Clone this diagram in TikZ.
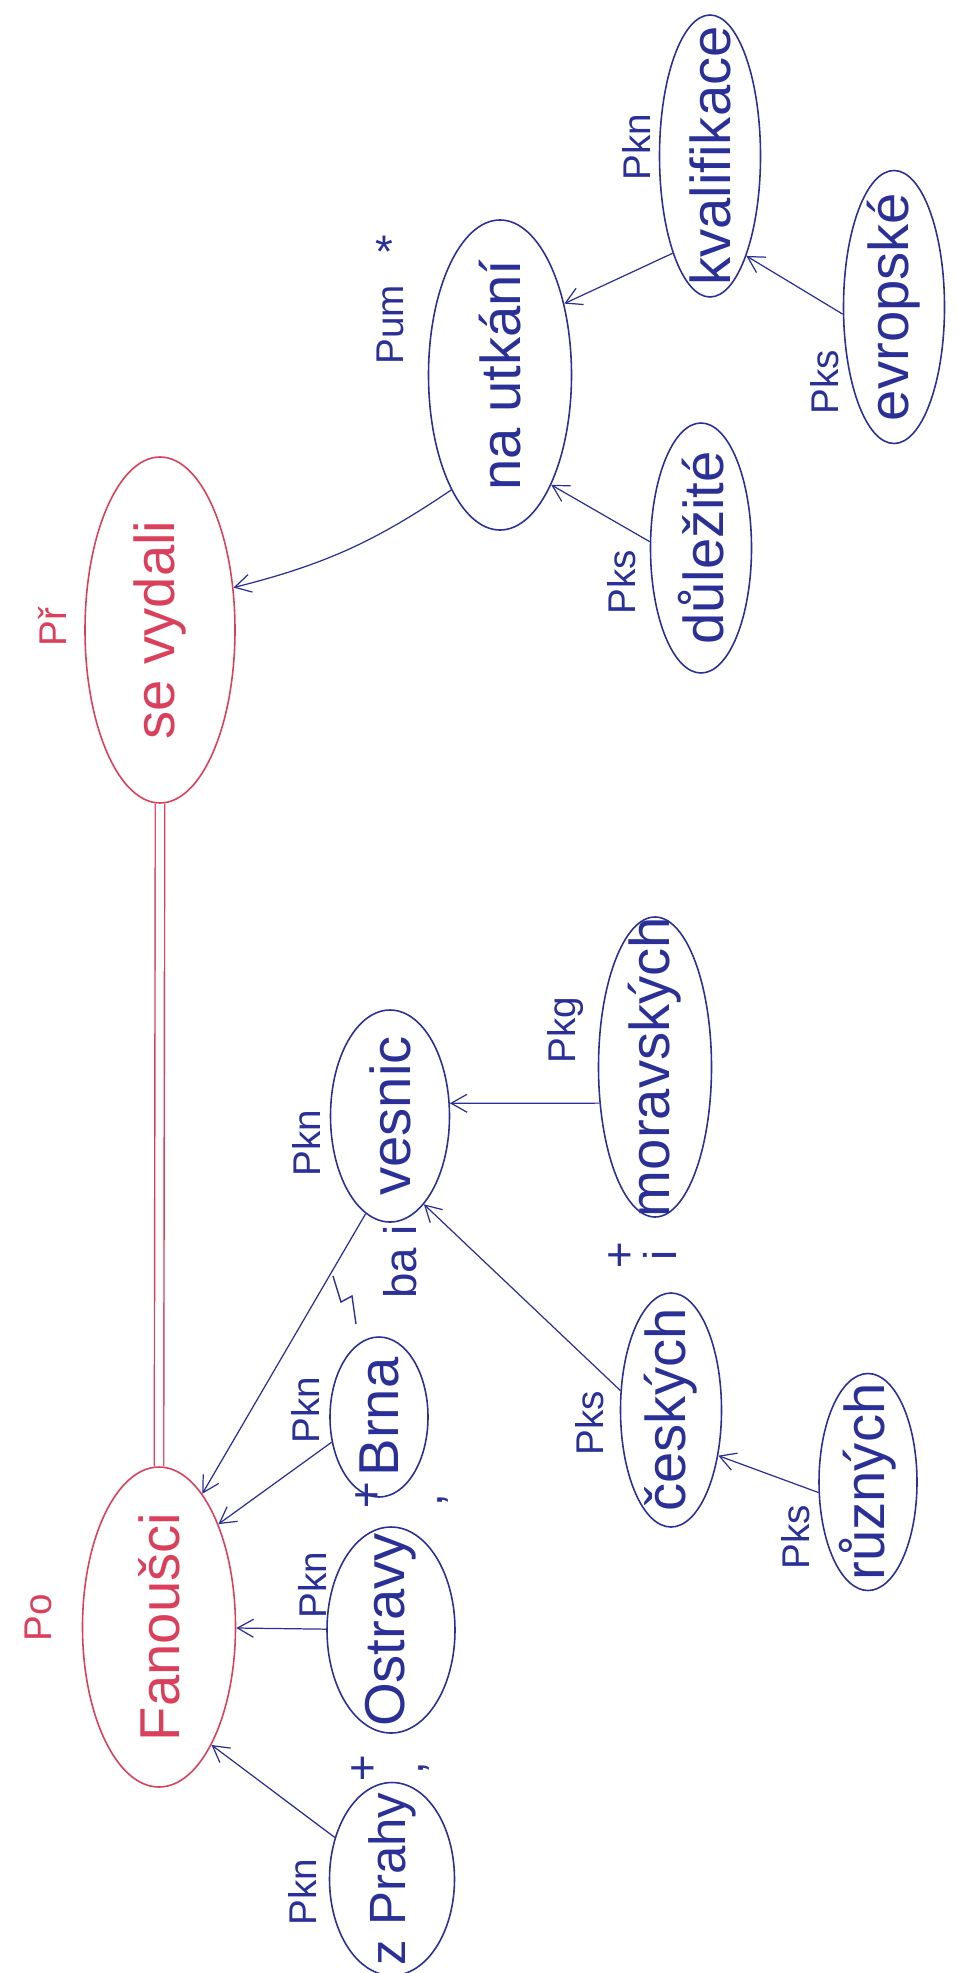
\documentclass[tikz,border=0pt]{standalone}
\usepackage{fontspec}
\setmainfont{Liberation Sans}
\usepackage{graphicx}
\usetikzlibrary{arrows.meta,shapes.geometric}
\definecolor{inkred}{RGB}{218,64,92}
\definecolor{inkblue}{RGB}{42,48,150}
\def\vtext#1{\rotatebox{90}{\makebox[0pt]{#1}}}
\tikzset{
	word/.style={ellipse, draw, line width=0.9pt, inner sep=0pt, font=\fontsize{32}{38}\selectfont},
	redword/.style={word, draw=inkred, text=inkred},
	blueword/.style={word, draw=inkblue, text=inkblue},
	fn/.style={rotate=90, inner sep=0pt, text=inkblue, font=\fontsize{22}{26}\selectfont},
	signmark/.style={inner sep=0pt, text=inkblue, font=\fontsize{26}{30}\selectfont},
	dep/.style={draw=inkblue, line width=0.7pt, -{Straight Barb[length=3.2mm,width=3.6mm]}}
}

\begin{document}
\begin{tikzpicture}[x=0.2mm, y=-0.2mm]
			%%%%% START %%%%%
			\useasboundingbox (0, 0) rectangle (958, 1973);
			
			\node[redword, minimum width=30mm, minimum height=69.2mm] (vydali) at (160, 630) {\vtext{se vydali}};
			\node[fn, text=inkred] (lblvydali) at (52, 627) {Př};
			
			\node[redword, minimum width=30.6mm, minimum height=64mm] (fanousci) at (159, 1627) {\vtext{Fanoušci}};
			\node[fn, text=inkred] (lblfanousci) at (38, 1618) {Po};
			
			\draw[inkred, line width=0.8pt, double=white, double distance=1.6mm] (vydali.south) -- (fanousci.north);
			
			\node[blueword, minimum width=28.6mm, minimum height=62mm] (utkani) at (500, 375) {\vtext{na utkání}};
			\node[fn] (lblutkani) at (390, 325) {Pum};
			\node[signmark] (hvezda) at (384, 252) {*};
			
			\node[blueword, minimum width=20.2mm, minimum height=56.4mm] (kvalifikace) at (710, 156) {\vtext{kvalifikace}};
			\node[fn] (lblkvalifikace) at (636, 147) {Pkn};
			
			\node[blueword, minimum width=20.2mm, minimum height=54.6mm] (evropske) at (894, 307) {\vtext{evropské}};
			\node[fn] (lblevropske) at (825, 382) {Pks};
			
			\node[blueword, minimum width=20.2mm, minimum height=50mm] (dulezite) at (701, 548) {\vtext{důležité}};
			\node[fn] (lbldulezite) at (622, 582) {Pks};
			
			\node[blueword, minimum width=23.8mm, minimum height=42.4mm] (vesnic) at (390, 1116) {\vtext{vesnic}};
			\node[fn] (lblvesnic) at (306, 1143) {Pkn};
			
			\node[blueword, minimum width=22.6mm, minimum height=60mm] (moravskych) at (655, 1067) {\vtext{moravských}};
			\node[fn] (lblmoravskych) at (565, 1030) {Pkg};
			
			\node[blueword, minimum width=19.6mm, minimum height=32mm] (brna) at (379, 1417) {\vtext{Brna}};
			\node[fn] (lblbrna) at (305, 1410) {Pkn};
			
			\node[blueword, minimum width=20.2mm, minimum height=46.8mm] (ceskych) at (671, 1410) {\vtext{českých}};
			\node[fn] (lblceskych) at (590, 1423) {Pks};
			
			\node[blueword, minimum width=19.6mm, minimum height=43.4mm] (ruznych) at (868, 1482) {\vtext{různých}};
			\node[fn] (lblruznych) at (796, 1537) {Pks};
			
			\node[blueword, minimum width=25.6mm, minimum height=41.2mm] (ostravy) at (391, 1630) {\vtext{Ostravy}};
			\node[fn] (lblostravy) at (312, 1585) {Pkn};
			
			\node[blueword, minimum width=25mm, minimum height=38.6mm, font=\fontsize{29}{34}\selectfont] (prahy) at (392, 1879) {\vtext{z Prahy}};
			\node[fn] (lblprahy) at (302, 1892) {Pkn};
			
			% souradici znaminka
			\node[signmark] (plusa) at (363, 1770) {+};
			\node[signmark, rotate=90] (carkaa) at (424, 1768) {,};
			\node[signmark] (plusb) at (367, 1497) {+};
			\node[signmark, rotate=90] (carkab) at (443, 1500) {,};
			\node[signmark] (plusc) at (620, 1257) {+};
			\node[signmark, rotate=90] (ic) at (660, 1255) {i};
			\node[signmark, rotate=90] (bai) at (400, 1262) {ba i};
			\draw[inkblue, line width=0.8pt] (333, 1276) -- (341, 1302) -- (352, 1296) -- (356, 1324);
			
			% zavislosti
			\draw[dep] (prahy.144) -- (fanousci.294);
			\draw[dep] (ostravy) -- (fanousci);
			\draw[dep] (brna.208) -- (fanousci.60);
			\draw[dep] (vesnic.256) -- (fanousci.72);
			\draw[dep] (moravskych.213) -- (vesnic.12);
			\draw[dep] (ceskych.159) -- (vesnic.291);
			\draw[dep] (ruznych.192) -- (ceskych.316);
			\draw[dep] (dulezite.173) -- (utkani.295);
			\draw[dep] (evropske.188) -- (kvalifikace.290);
			\draw[dep] (kvalifikace.249) -- (utkani.48);
			\draw[dep] (utkani.247) to[bend left=10] (vydali.30);
			
			%%%%% END %%%%%
\end{tikzpicture}
\end{document}
